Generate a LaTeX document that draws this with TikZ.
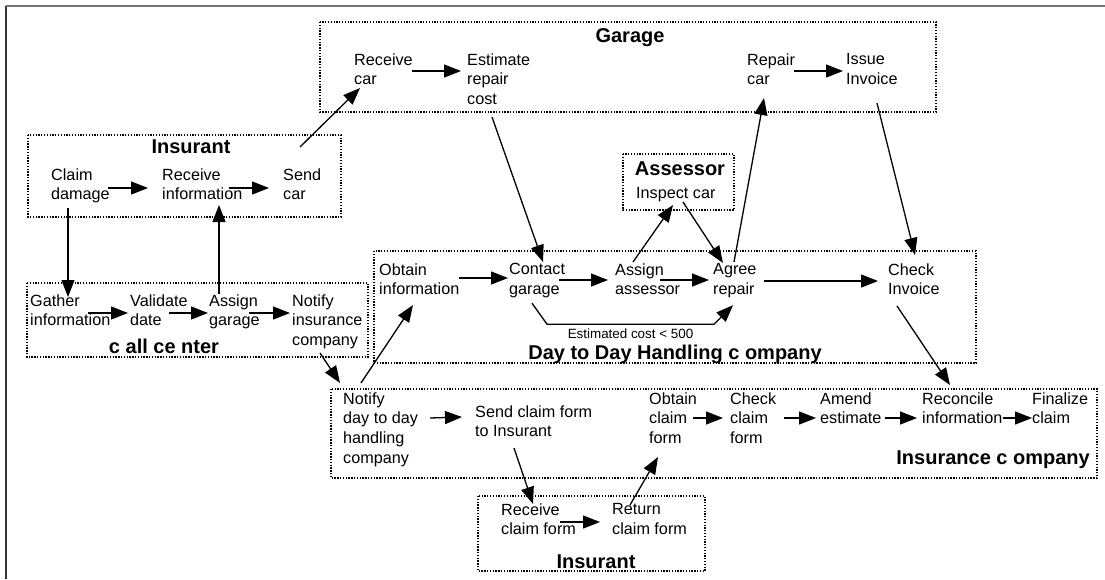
\documentclass[tikz,border=0pt]{standalone}
\usepackage{fontspec}
\setmainfont{Liberation Sans}
\usepackage{tikz}
\usetikzlibrary{
    arrows.meta,
}
\colorlet{FrameGray}{black!55}
\colorlet{FrameDark}{black!80}
\tikzset{
    >={Triangle[length=17pt,width=13pt]}
}

\begin{document}
\begin{tikzpicture}[
    x=1pt,y=-1pt,
    act/.style={anchor=north west,align=left,inner sep=0pt,font=\fontsize{16.2}{19.7}\selectfont,execute at begin node=\strut},
    lanetitle/.style={anchor=base,inner sep=0pt,font=\fontsize{20}{24}\selectfont\bfseries},
    lane/.style={draw,line width=1.3pt,dash pattern=on 1.3pt off 1.5pt},
    arr/.style={->,line width=1.3pt}
    ]
    \useasboundingbox (0,0) rectangle (1105,579);
    \draw[FrameDark,line width=2pt] (6,579) -- (6,6);
    \draw[FrameGray,line width=2pt] (6,6) -- (1105,6);

    \draw[lane] (320,22) rectangle (936,112);
    \draw[lane] (28,135) rectangle (341,217);
    \draw[lane] (623,154) rectangle (734,210);
    \draw[lane] (27,283) rectangle (368,357);
    \draw[lane] (374,251) rectangle (976,363);
    \draw[lane] (331,389) rectangle (1097,478);
    \draw[lane] (478,496) rectangle (705,571);

    \node[lanetitle] (garage) at (630,42) {Garage};
    \node[lanetitle] (insurant1) at (191,153) {Insurant};
    \node[lanetitle] (assessor) at (680,175) {Assessor};
    \node[lanetitle] (callcenter) at (164,353) {c all ce nter};
    \node[lanetitle] (daytoday) at (675,359) {Day to Day Handling c ompany};
    \node[lanetitle,anchor=base east] (insurance) at (1090,464) {Insurance c ompany};
    \node[lanetitle] (insurant2) at (596,568) {Insurant};

    \node[act] (claim) at (51,168.2) {Claim\\damage};
    \node[act] (recvinfo) at (162,168.2) {Receive\\information};
    \node[act] (sendcar) at (283,168.2) {Send\\car};

    \node[act] (recvcar) at (354,53.2) {Receive\\car};
    \node[act] (estimate) at (467,53.2) {Estimate\\repair\\cost};
    \node[act] (repaircar) at (747,53.2) {Repair\\car};
    \node[act] (invoice) at (846,53.2) {Issue\\Invoice};

    \node[act] (inspect) at (636,184.2) {Inspect car};

    \node[act] (obtaininfo) at (379,263.2) {Obtain\\information};
    \node[act] (contact) at (509,263.2) {Contact\\garage};
    \node[act] (assign) at (615,263.2) {Assign\\assessor};
    \node[act] (agree) at (713,263.2) {Agree\\repair};
    \node[act] (checkinv) at (888,263.2) {Check\\Invoice};

    \node[act] (gather) at (30,294.2) {Gather\\information};
    \node[act] (validate) at (130,294.2) {Validate\\date};
    \node[act] (assigngar) at (209,294.2) {Assign\\garage};
    \node[act] (notifyins) at (292,294.2) {Notify\\insurance\\company};

    \node[act] (notifyday) at (343,392.2) {Notify\\day to day\\handling\\company};
    \node[act] (sendform) at (475,405.2) {Send claim form\\to Insurant};
    \node[act] (obtainform) at (649,392.2) {Obtain\\claim\\form};
    \node[act] (checkform) at (730,392.2) {Check\\claim\\form};
    \node[act] (amend) at (820,392.2) {Amend\\estimate};
    \node[act] (reconcile) at (922,392.2) {Reconcile\\information};
    \node[act] (finalize) at (1032,392.2) {Finalize\\claim};

    \node[act] (recvform) at (501,503.2) {Receive\\claim form};
    \node[act] (returnform) at (612,503.2) {Return\\claim form};

    \draw[arr] ([shift={(57,19.8)}]claim.north west) -- ([shift={(-14,19.8)}]recvinfo.north west);
    \draw[arr] ([shift={(67,19.8)}]recvinfo.north west) -- ([shift={(-14,19.8)}]sendcar.north west);
    \draw[arr] ([shift={(17,-21.2)}]sendcar.north west) -- ([shift={(6,34.8)}]recvcar.north west);
    \draw[arr] ([shift={(58,17.8)}]recvcar.north west) -- ([shift={(-6,17.8)}]estimate.north west);
    \draw[arr] ([shift={(47,17.8)}]repaircar.north west) -- ([shift={(-3,17.8)}]invoice.north west);
    \draw[arr] ([shift={(25,63.8)}]estimate.north west) -- ([shift={(34,-1.2)}]contact.north west);
    \draw[arr] ([shift={(18,-1.2)}]assign.north west) -- ([shift={(37,20.8)}]inspect.north west);
    \draw[arr] ([shift={(47,17.8)}]inspect.north west) -- ([shift={(10,-0.2)}]agree.north west);
    \draw[arr] ([shift={(21,-1.2)}]agree.north west) -- ([shift={(17,44.8)}]repaircar.north west);
    \draw[arr] ([shift={(31,49.8)}]invoice.north west) -- ([shift={(27,-8.2)}]checkinv.north west);

    \draw[arr] ([shift={(80,14.8)}]obtaininfo.north west) -- ([shift={(-1,14.8)}]contact.north west);
    \draw[arr] ([shift={(50,16.8)}]contact.north west) -- ([shift={(-7,16.8)}]assign.north west);
    \draw[arr] ([shift={(45,16.8)}]assign.north west) -- ([shift={(-4,16.8)}]agree.north west);
    \draw[arr] ([shift={(51,17.8)}]agree.north west) -- ([shift={(-10,17.8)}]checkinv.north west);
    \draw[arr] ([shift={(23,40)}]contact.north west) -- ++(15,21)
        -- node[below=4pt,inner sep=0pt,font=\fontsize{13.4}{16}\selectfont] (cost) {Estimated cost < 500} ++(167,0)
        -- ([shift={(20,42)}]agree.north west);
    \draw[arr] ([shift={(9,42.8)}]checkinv.north west) -- ([shift={(28,-7.2)}]reconcile.north west);

    \draw[arr] ([shift={(17,39.8)}]claim.north west) -- ([shift={(38,2.8)}]gather.north west);
    \draw[arr] ([shift={(10,-0.2)}]assigngar.north west) -- ([shift={(57,36.8)}]recvinfo.north west);
    \draw[arr] ([shift={(58,18.8)}]gather.north west) -- ([shift={(-2,18.8)}]validate.north west);
    \draw[arr] ([shift={(39,18.8)}]validate.north west) -- ([shift={(-1,18.8)}]assigngar.north west);
    \draw[arr] ([shift={(40,18.8)}]assigngar.north west) -- ([shift={(-2,18.8)}]notifyins.north west);
    \draw[arr] ([shift={(28,58.8)}]notifyins.north west) -- ([shift={(-3,-9.2)}]notifyday.north west);
    \draw[arr] ([shift={(18,-9.2)}]notifyday.north west) -- ([shift={(34,41.8)}]obtaininfo.north west);

    \draw[arr] ([shift={(87,25.8)}]notifyday.north west) -- ([shift={(-13,11.8)}]sendform.north west);
    \draw[arr] ([shift={(39,42.8)}]sendform.north west) -- ([shift={(32,0.8)}]recvform.north west);
    \draw[arr] ([shift={(59,18.8)}]recvform.north west) -- ([shift={(-12,18.8)}]returnform.north west);
    \draw[arr] ([shift={(18,1.8)}]returnform.north west) -- ([shift={(9,64.8)}]obtainform.north west);
    \draw[arr] ([shift={(44,25.8)}]obtainform.north west) -- ([shift={(-7,25.8)}]checkform.north west);
    \draw[arr] ([shift={(54,25.8)}]checkform.north west) -- ([shift={(-4,25.8)}]amend.north west);
    \draw[arr] ([shift={(65,25.8)}]amend.north west) -- ([shift={(-5,25.8)}]reconcile.north west);
    \draw[arr] ([shift={(81,25.8)}]reconcile.north west) -- ([shift={(0,25.8)}]finalize.north west);
\end{tikzpicture}
\end{document}
